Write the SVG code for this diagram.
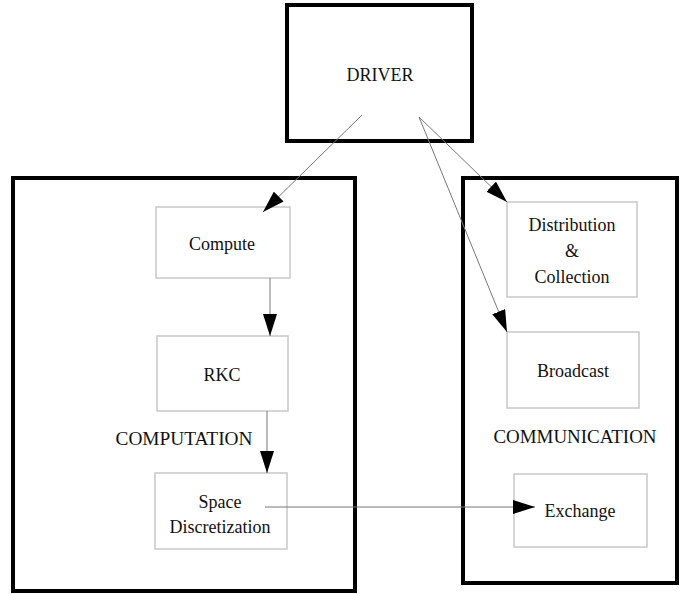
<svg xmlns="http://www.w3.org/2000/svg" width="680" height="594" viewBox="0 0 680 594">
<style>
.frame{fill:none;stroke:#000;stroke-width:4}
.box{fill:#fff;stroke:#c8c8c8;stroke-width:1.5}
.t{font-family:"Liberation Serif","Times New Roman",serif;font-size:18px;fill:#111;text-anchor:middle}
.c{fill:none;stroke:#777;stroke-width:1}
</style>
<defs>
<marker id="ah" markerUnits="userSpaceOnUse" markerWidth="22" markerHeight="14" viewBox="0 0 22 14" refX="22" refY="7" orient="auto">
<path d="M0,0 L22,7 L0,14 z" fill="#000"/>
</marker>
</defs>
<rect width="680" height="594" fill="#fff"/>
<g id="driver">
<rect class="frame" x="287" y="5" width="185" height="136"/>
<text class="t" x="380" y="81">DRIVER</text>
</g>
<g id="computation">
<rect class="frame" x="13" y="178" width="342" height="413"/>
<text class="t" x="184" y="445" textLength="137" lengthAdjust="spacingAndGlyphs">COMPUTATION</text>
</g>
<g id="communication">
<rect class="frame" x="463" y="178" width="214" height="405"/>
<text class="t" x="575" y="443" textLength="163" lengthAdjust="spacingAndGlyphs">COMMUNICATION</text>
</g>
<g id="compute">
<rect class="box" x="156" y="207" width="134" height="71"/>
<text class="t" x="222" y="250">Compute</text>
</g>
<g id="rkc">
<rect class="box" x="157" y="336" width="131" height="75"/>
<text class="t" x="222" y="381">RKC</text>
</g>
<g id="space">
<rect class="box" x="155" y="473" width="132" height="76"/>
<text class="t" x="220" y="508">Space</text>
<text class="t" x="220" y="533">Discretization</text>
</g>
<g id="distribution">
<rect class="box" x="507" y="202" width="130" height="95"/>
<text class="t" x="572" y="231">Distribution</text>
<text class="t" x="572" y="257">&amp;</text>
<text class="t" x="572" y="283">Collection</text>
</g>
<g id="broadcast">
<rect class="box" x="507" y="332" width="132" height="76"/>
<text class="t" x="573" y="377">Broadcast</text>
</g>
<g id="exchange">
<rect class="box" x="514" y="474" width="133" height="73"/>
<text class="t" x="580" y="517">Exchange</text>
</g>
<g id="connectors">
<line class="c" x1="362" y1="115" x2="263" y2="212" marker-end="url(#ah)"/>
<line class="c" x1="419" y1="117" x2="507" y2="202" marker-end="url(#ah)"/>
<line class="c" x1="419" y1="117" x2="507" y2="332" marker-end="url(#ah)"/>
<line class="c" x1="270" y1="278" x2="270" y2="336" marker-end="url(#ah)"/>
<line class="c" x1="267" y1="411" x2="267" y2="473" marker-end="url(#ah)"/>
<line class="c" x1="265" y1="507" x2="535" y2="507" marker-end="url(#ah)"/>
</g>
</svg>
